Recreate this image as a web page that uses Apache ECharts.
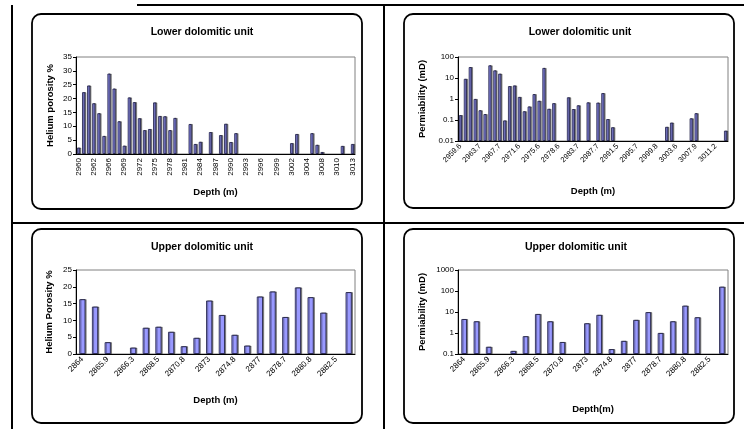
<!DOCTYPE html>
<html><head><meta charset="utf-8">
<script src="https://cdn.jsdelivr.net/npm/echarts@6/dist/echarts.min.js"></script>
<style>html,body{margin:0;padding:0;background:#fff}#c{width:744px;height:429px}</style>
</head><body><div id="c"></div>
<script>
// ---- Data ----
const lowerDepth = [2959.6,2960.4,2961.0,2961.8,2963.7,2964.6,2965.8,2966.8,2967.7,2968.7,2969.7,2970.6,2971.6,2972.7,2973.8,2974.8,2975.6,2976.8,2977.7,2978.2,2978.6,2980.8,2982.0,2982.8,2983.7,2984.7,2985.8,2986.8,2987.7,2988.7,2989.7,2990.6,2991.5,2992.6,2993.7,2994.7,2995.7,2996.8,2997.8,2998.8,2999.8,3000.8,3001.8,3002.7,3003.6,3004.4,3005.5,3006.7,3007.9,3008.7,3009.4,3010.2,3011.2,3012.1,3013.0];
const lowerPorosity = [2.3,22.3,24.7,18.3,14.7,6.5,29.0,23.6,11.8,3.0,20.4,18.7,12.9,8.6,9.0,18.6,13.7,13.6,8.6,13.0,null,null,10.8,3.6,4.4,null,7.9,null,6.8,10.9,4.3,7.5,null,null,null,null,null,null,null,null,null,null,3.9,7.2,null,null,7.5,3.3,0.7,null,null,null,2.9,null,3.6];
const lowerPerm = [0.17,9.1,33,1.0,0.29,0.19,40,23,16,0.095,4.1,4.4,1.25,0.26,0.44,1.7,0.82,30,0.34,0.63,null,null,1.2,0.33,0.5,null,0.69,null,0.67,1.9,0.11,0.045,null,null,null,null,null,null,null,null,null,null,0.047,0.075,null,null,null,0.12,0.21,null,null,null,null,null,0.031];
const upperDepth = [2864,2865.0,2865.9,2866.1,2866.3,2867.4,2868.5,2869.6,2870.8,2871.9,2873,2873.9,2874.8,2875.9,2877,2877.8,2878.7,2879.7,2880.8,2881.6,2882.5,2883.4];
const upperPorosity = [16.3,14.1,3.5,null,1.9,7.8,8.1,6.6,2.3,4.8,15.9,11.6,5.7,2.5,17.1,18.6,11.0,19.8,16.9,12.3,null,18.4];
const upperPerm = [4.6,3.6,0.22,null,0.14,0.7,8.0,3.6,0.37,null,2.9,7.3,0.17,0.42,4.2,9.8,1.0,3.6,20,5.6,null,160];

const titles = ['Lower dolomitic unit','Lower dolomitic unit','Upper dolomitic unit','Upper dolomitic unit'];
const yNames = ['Helium porosity %','Permiability (mD)','Helium Porosity %','Permiability (mD)'];
const xNames = ['Depth (m)','Depth (m)','Depth (m)','Depth(m)'];

// ---- Chart ----
const FONT = 'Liberation Sans';
const chart = echarts.init(document.getElementById('c'), null, {renderer:'canvas'});

const grids = [
  {left:76, top:57, width:279, height:97},
  {left:458, top:57, width:270, height:84},
  {left:76, top:270, width:279, height:84},
  {left:458, top:270, width:270, height:84}
].map(g => Object.assign({show:true, borderColor:'#808080', borderWidth:1, backgroundColor:'#fff'}, g));

function mkX(i, data, interval, rotate, fmt, gap, fs) {
  return {
    type:'category', gridIndex:i, data:data.map(String),
    name:xNames[i], nameLocation:'middle', nameGap:gap,
    nameTextStyle:{fontFamily:FONT, fontWeight:'bold', fontSize:9.5, color:'#000'},
    axisLine:{lineStyle:{color:'#000', width:1}},
    axisTick:{interval:0, length:3, lineStyle:{color:'#000'}},
    axisLabel:{interval:interval, rotate:rotate, fontFamily:FONT, fontSize:fs, color:'#000', margin:4, formatter:fmt}
  };
}
function mkY(i, extra, gap) {
  return Object.assign({
    gridIndex:i, name:yNames[i], nameLocation:'middle', nameRotate:90, nameGap:gap,
    nameTextStyle:{fontFamily:FONT, fontWeight:'bold', fontSize:9.5, color:'#000'},
    axisLine:{show:true, lineStyle:{color:'#000', width:1}},
    axisTick:{show:true, length:3, lineStyle:{color:'#000'}},
    splitLine:{show:false},
    axisLabel:{fontFamily:FONT, fontSize:8, color:'#000', margin:4, formatter: v => String(v)}
  }, extra);
}
const barStyle = {color:'#9999ff', borderColor:'#1a1a40', borderWidth:0.8, shadowColor:'rgba(0,0,0,0.45)', shadowOffsetX:1.2, shadowBlur:0};
function mkBar(i, data, w) {
  return {type:'bar', xAxisIndex:i, yAxisIndex:i, data:data, barWidth:w, itemStyle:barStyle, silent:true, animation:false};
}

const boxes = [[32,14,330,195],[404,14,330,194],[32,229,330,194],[404,229,330,194]];
const graphic = boxes.map(b => ({type:'rect', shape:{x:b[0], y:b[1], width:b[2], height:b[3], r:9}, style:{fill:null, stroke:'#000', lineWidth:1.8}, z:-1}))
  .concat([
    {type:'line', shape:{x1:137,y1:5,x2:744,y2:5}, style:{stroke:'#000', lineWidth:2}},
    {type:'line', shape:{x1:12,y1:5,x2:12,y2:429}, style:{stroke:'#000', lineWidth:2}},
    {type:'line', shape:{x1:384,y1:5,x2:384,y2:429}, style:{stroke:'#000', lineWidth:2}},
    {type:'line', shape:{x1:12,y1:223,x2:744,y2:223}, style:{stroke:'#000', lineWidth:2}}
  ]);

const titlePos = [[197,22],[575,22],[197,237],[571,237]];
const option = {
  animation:false,
  backgroundColor:'#fff',
  title: titles.map((t,i) => ({text:t, left:titlePos[i][0], top:titlePos[i][1], textAlign:'center',
    textStyle:{fontFamily:FONT, fontWeight:'bold', fontSize:10.5, color:'#000'}})),
  grid: grids,
  xAxis: [
    mkX(0, lowerDepth, 2, 90, v => String(Math.round(+v)), 33, 8),
    mkX(1, lowerDepth, 3, 45, v => v, 45, 7.5),
    mkX(2, upperDepth, 1, 45, v => v, 41, 8),
    mkX(3, upperDepth, 1, 45, v => v, 50, 8)
  ],
  yAxis: [
    mkY(0, {type:'value', min:0, max:35, interval:5}, 21),
    mkY(1, {type:'log', logBase:10, min:0.01, max:100, startValue:0.01}, 31),
    mkY(2, {type:'value', min:0, max:25, interval:5}, 22),
    mkY(3, {type:'log', logBase:10, min:0.1, max:1000, startValue:0.1}, 31)
  ],
  series: [
    mkBar(0, lowerPorosity, '60%'),
    mkBar(1, lowerPerm, '62%'),
    mkBar(2, upperPorosity, '48%'),
    mkBar(3, upperPerm, '45%')
  ],
  graphic: graphic
};
chart.setOption(option);
</script>
</body></html>
